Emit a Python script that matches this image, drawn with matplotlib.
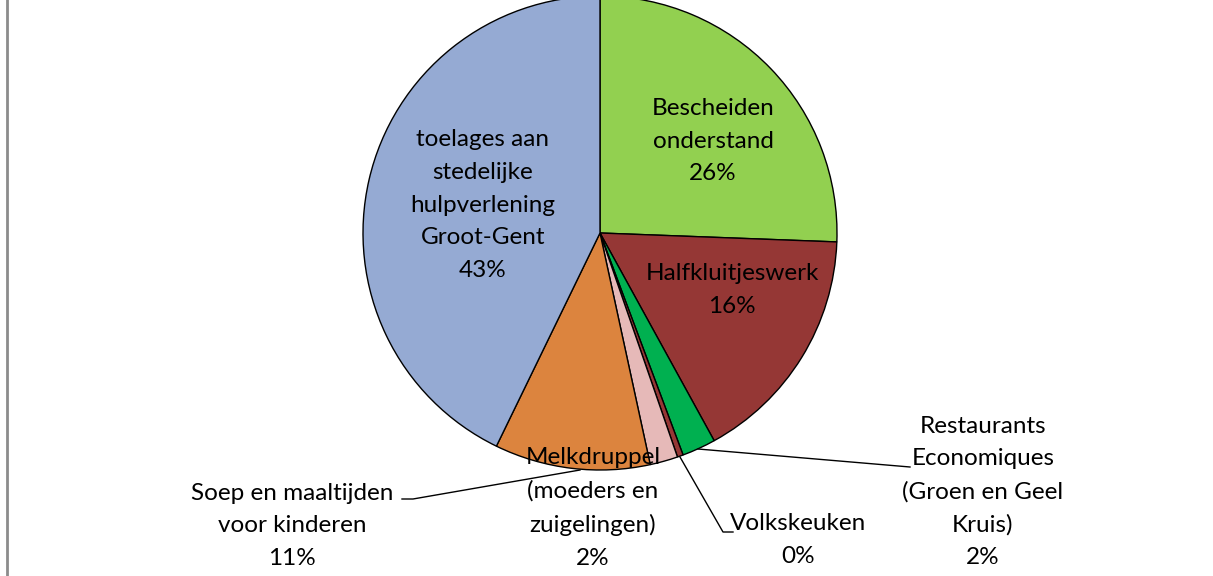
import matplotlib
matplotlib.use("Agg")
import matplotlib.pyplot as plt
from matplotlib.lines import Line2D

# slices, clockwise from 12 o'clock
labels = ["Bescheiden\nonderstand", "Halfkluitjeswerk",
          "Restaurants\nEconomiques\n(Groen en Geel\nKruis)", "Volkskeuken",
          "Melkdruppel\n(moeders en\nzuigelingen)", "Soep en maaltijden\nvoor kinderen",
          "toelages aan\nstedelijke\nhulpverlening\nGroot-Gent"]
values = [25.6, 16.4, 2.3, 0.4, 1.9, 10.6, 42.8]
colors = ["#92D050", "#953735", "#00B050", "#953735", "#E6B9B8", "#DC843E", "#95AAD3"]

W, H = 1213, 576
fig = plt.figure(figsize=(W / 100, H / 100), dpi=100)
ax = fig.add_axes([0, 0, 1, 1])

def py(y):  # pixel row -> data y
    return H - y

cx, cy, r = 600, py(233), 237
ax.pie(values, colors=colors, startangle=90, counterclock=False,
       center=(cx, cy), radius=r, frame=True,
       wedgeprops=dict(edgecolor="black", linewidth=1.0))
ax.set_xlim(0, W)
ax.set_ylim(0, H)
ax.set_aspect("equal")
ax.axis("off")

# label positions (pixel coords of text block centre)
pos = [(713, 141), (732, 290), (983, 492), (798, 540), (593, 508), (292, 526), (483, 205)]
for lab, v, (x, y) in zip(labels, values, pos):
    ax.text(x, py(y), f"{lab}\n{round(v)}%", ha="center", va="center",
            fontsize=17.5, family="Lato", linespacing=1.68, color="black")

# leader lines
leaders = [
    [(698, 449), (910, 467)],
    [(680, 457), (723, 532), (733, 532)],
    [(580, 470), (413, 499), (402, 499)],
]
for pts in leaders:
    xs = [p[0] for p in pts]
    ys = [py(p[1]) for p in pts]
    ax.add_line(Line2D(xs, ys, color="black", linewidth=1.0))

ax.add_line(Line2D([7, 7], [0, H], color="#8c8c8c", linewidth=2))

fig.savefig("out.png", dpi=100)
